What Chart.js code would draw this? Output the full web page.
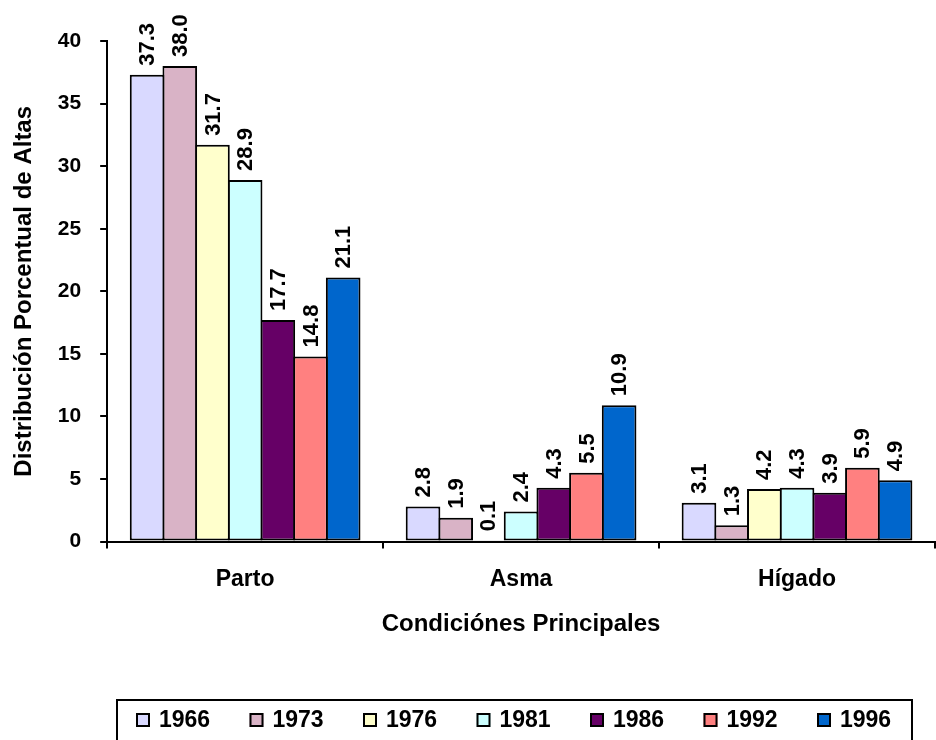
<!DOCTYPE html>
<html>
<head>
<meta charset="utf-8">
<script src="https://cdn.jsdelivr.net/npm/chart.js@4/dist/chart.umd.min.js"></script>
<style>
  html, body { margin: 0; padding: 0; background: #ffffff; }
  #wrap { width: 936px; height: 740px; position: relative; }
</style>
</head>
<body>
<div id="wrap"><canvas id="c" width="936" height="740"></canvas></div>
<script>
const categories = ["Parto", "Asma", "Hígado"];
const years = ["1966", "1973", "1976", "1981", "1986", "1992", "1996"];
const v1966 = [37.3, 2.8, 3.1];
const v1973 = [38.0, 1.9, 1.3];
const v1976 = [31.7, 0.1, 4.2];
const v1981 = [28.9, 2.4, 4.3];
const v1986 = [17.7, 4.3, 3.9];
const v1992 = [14.8, 5.5, 5.9];
const v1996 = [21.1, 10.9, 4.9];
const yTicks = [0, 5, 10, 15, 20, 25, 30, 35, 40];
const colors = ["#D9D9FF", "#D9B3C6", "#FFFFCC", "#CCFFFF", "#660066", "#FF8080", "#0066CC"];
const xTitle = "Condiciónes Principales";
const yTitle = "Distribución Porcentual de Altas";

const FONT = "'Liberation Sans', Arial, sans-serif";
const seriesValues = [v1966, v1973, v1976, v1981, v1986, v1992, v1996];

const datasets = years.map((y, i) => ({
  label: y,
  data: seriesValues[i],
  backgroundColor: colors[i],
  borderColor: "#000000",
  borderWidth: 2,
  borderSkipped: false,
  barPercentage: 1.06,
  categoryPercentage: 0.829
}));

const valueLabels = {
  id: "valueLabels",
  afterDatasetsDraw(chart) {
    const ctx = chart.ctx;
    ctx.save();
    ctx.font = "bold 22px " + FONT;
    ctx.fillStyle = "#000";
    ctx.textAlign = "left";
    ctx.textBaseline = "middle";
    chart.data.datasets.forEach((ds, di) => {
      const meta = chart.getDatasetMeta(di);
      meta.data.forEach((el, i) => {
        const v = ds.data[i];
        ctx.save();
        ctx.translate(el.x + 1, el.y - 9);
        ctx.rotate(-Math.PI / 2);
        ctx.fillText(v.toFixed(1), 0, 0);
        ctx.restore();
      });
    });
    ctx.restore();
  }
};

const boxLegend = {
  id: "boxLegend",
  afterDraw(chart) {
    const ctx = chart.ctx;
    ctx.save();
    const left = 117, right = 912, top = 700;
    ctx.lineWidth = 2;
    ctx.strokeStyle = "#000";
    ctx.strokeRect(left, top, right - left, 50);
    ctx.font = "bold 23px " + FONT;
    ctx.textBaseline = "middle";
    ctx.textAlign = "left";
    chart.data.datasets.forEach((ds, i) => {
      const x = 136 + i * 113.5;
      const y = 713;
      ctx.fillStyle = ds.backgroundColor;
      ctx.fillRect(x, y, 14, 14);
      ctx.lineWidth = 2;
      ctx.strokeStyle = "#000";
      ctx.strokeRect(x + 1, y + 1, 12, 12);
      ctx.fillStyle = "#000";
      ctx.fillText(ds.label, x + 23, y + 8);
    });
    ctx.restore();
  }
};

new Chart(document.getElementById("c"), {
  type: "bar",
  data: { labels: categories, datasets },
  options: {
    responsive: false,
    animation: false,
    devicePixelRatio: 1,
    layout: { padding: { left: 10, right: 1, top: 41, bottom: 101 } },
    plugins: {
      legend: { display: false },
      tooltip: { enabled: false }
    },
    scales: {
      x: {
        offset: true,
        grid: { display: true, drawOnChartArea: false, drawTicks: true, tickLength: 7, color: "#000", lineWidth: 2, offset: true },
        border: { display: true, color: "#000", width: 2 },
        ticks: { color: "#000", padding: 17, font: { family: FONT, size: 23, weight: "bold" } },
        title: { display: true, text: xTitle, color: "#000", padding: { top: 0, bottom: 0 }, font: { family: FONT, size: 24, weight: "bold" } }
      },
      y: {
        min: 0, max: 40,
        afterBuildTicks(axis) { axis.ticks = yTicks.map(v => ({ value: v })); },
        grid: { display: true, drawOnChartArea: false, drawTicks: true, tickLength: 7, color: "#000", lineWidth: 2 },
        border: { display: true, color: "#000", width: 2 },
        ticks: { color: "#000", padding: 19, font: { family: FONT, size: 21, weight: "bold" } },
        title: { display: true, text: yTitle, color: "#000", padding: { top: 0, bottom: 0 }, font: { family: FONT, size: 24, weight: "bold" } }
      }
    }
  },
  plugins: [valueLabels, boxLegend]
});
</script>
</body>
</html>
